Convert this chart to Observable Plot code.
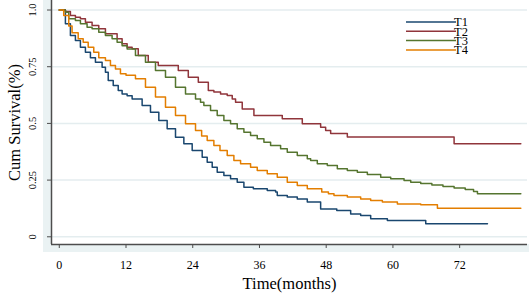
<!DOCTYPE html>
<html>
<head>
<meta charset="utf-8">
<script src="https://cdn.jsdelivr.net/npm/d3@7"></script>
<script src="https://cdn.jsdelivr.net/npm/@observablehq/plot@0.6"></script>
<style>
  html, body { margin: 0; padding: 0; background: #ffffff; }
  #chart svg { display: block; }
</style>
</head>
<body>
<div id="chart"></div>
<script>
// ---- Data ----
const seriesNames = ["T1", "T2", "T3", "T4"];
const seriesColors = ["#1a476f", "#90353b", "#55752f", "#e37e00"];

const t1Time = [0, 1.1, 2.0, 2.9, 3.8, 4.7, 5.6, 6.5, 7.7, 8.3, 8.8, 9.7, 10.6, 11.3, 12.2, 13.1, 14.9, 16.4, 17.9, 19.4, 20.9, 22.4, 23.9, 25.7, 26.6, 27.5, 28.4, 29.6, 30.8, 32.0, 33.2, 34.9, 37.4, 38.9, 39.2, 41.0, 42.8, 44.6, 47.0, 49.9, 52.4, 54.2, 56.0, 59.0, 65.9, 77.0];
const t1Surv = [1.0, 0.94, 0.888, 0.866, 0.836, 0.814, 0.79, 0.77, 0.748, 0.726, 0.689, 0.667, 0.645, 0.63, 0.622, 0.608, 0.579, 0.549, 0.513, 0.476, 0.439, 0.41, 0.38, 0.351, 0.329, 0.307, 0.285, 0.27, 0.256, 0.241, 0.219, 0.212, 0.204, 0.197, 0.182, 0.175, 0.167, 0.153, 0.123, 0.116, 0.101, 0.094, 0.08, 0.072, 0.057, 0.057];

const t2Time = [0, 1.1, 2.0, 2.9, 3.8, 4.7, 5.9, 7.1, 8.3, 10.4, 11.3, 12.2, 13.1, 14.2, 16.0, 17.8, 21.4, 23.2, 25.0, 26.8, 27.8, 29.0, 30.2, 31.1, 31.7, 32.9, 35.0, 40.1, 43.7, 47.0, 47.9, 48.8, 51.8, 71.0, 83.0];
const t2Surv = [1.0, 0.993, 0.976, 0.968, 0.961, 0.946, 0.932, 0.917, 0.895, 0.873, 0.851, 0.836, 0.829, 0.80, 0.77, 0.755, 0.733, 0.704, 0.682, 0.645, 0.638, 0.63, 0.623, 0.608, 0.593, 0.564, 0.535, 0.52, 0.498, 0.483, 0.469, 0.455, 0.44, 0.41, 0.41];

const t3Time = [0, 1.1, 1.7, 2.9, 3.8, 5.0, 5.9, 7.1, 8.3, 9.5, 10.4, 11.3, 12.2, 13.7, 15.5, 17.3, 19.1, 20.9, 22.7, 24.5, 25.4, 26.0, 27.2, 28.4, 29.6, 30.8, 32.0, 33.2, 34.4, 35.6, 36.8, 38.0, 39.8, 41.0, 42.8, 44.6, 45.2, 46.4, 48.2, 50.0, 51.8, 53.6, 55.4, 57.8, 59.6, 62.0, 63.2, 65.0, 67.0, 69.0, 71.0, 73.0, 74.5, 75.2, 83.0];
const t3Surv = [1.0, 0.99, 0.961, 0.954, 0.939, 0.924, 0.917, 0.902, 0.888, 0.873, 0.858, 0.843, 0.828, 0.80, 0.77, 0.733, 0.704, 0.66, 0.63, 0.608, 0.593, 0.579, 0.557, 0.535, 0.513, 0.498, 0.476, 0.461, 0.447, 0.432, 0.417, 0.403, 0.388, 0.373, 0.358, 0.344, 0.336, 0.322, 0.314, 0.30, 0.292, 0.285, 0.275, 0.263, 0.256, 0.248, 0.241, 0.235, 0.228, 0.222, 0.215, 0.208, 0.20, 0.19, 0.19];

const t4Time = [0, 0.8, 1.7, 2.3, 3.4, 4.3, 5.2, 6.2, 7.1, 8.3, 9.2, 10.1, 11.0, 12.0, 13.7, 15.5, 17.3, 19.1, 20.9, 22.7, 24.5, 25.6, 26.6, 27.8, 28.9, 30.2, 31.4, 32.6, 34.4, 35.6, 37.4, 39.2, 41.0, 42.8, 44.6, 47.2, 48.4, 49.4, 51.8, 54.2, 56.0, 58.1, 60.8, 65.0, 68.0, 83.0];
const t4Surv = [1.0, 0.976, 0.93, 0.90, 0.873, 0.858, 0.836, 0.814, 0.79, 0.777, 0.755, 0.74, 0.719, 0.712, 0.697, 0.66, 0.616, 0.571, 0.535, 0.498, 0.469, 0.445, 0.425, 0.403, 0.38, 0.358, 0.336, 0.322, 0.307, 0.292, 0.278, 0.263, 0.241, 0.226, 0.212, 0.197, 0.19, 0.182, 0.175, 0.167, 0.16, 0.153, 0.145, 0.141, 0.126, 0.126];

const xTicks = [0, 12, 24, 36, 48, 60, 72];
const yTicks = [0, 0.25, 0.5, 0.75, 1.0];
const yTickLabels = ["0", "0.25", "0.5", "0.75", "1.0"];
const xTitle = "Time(months)";
const yTitle = "Cum Survival(%)";

// ---- Build table ----
const allTimes = [t1Time, t2Time, t3Time, t4Time];
const allSurv = [t1Surv, t2Surv, t3Surv, t4Surv];
const rows = [];
seriesNames.forEach((name, i) => {
  allTimes[i].forEach((t, j) => rows.push({series: name, time: t, surv: allSurv[i][j]}));
});

const FONT = "'Liberation Serif', 'Times New Roman', serif";
const gridColor = "#e4edef";
const bandColor = "#eaf2f3";
const axisColor = "#4d4d4d";

// background band (graph region) + white plot region
function background(index, scales, values, dimensions) {
  const {width, height, marginLeft, marginBottom} = dimensions;
  const g = d3.create("svg:g");
  g.append("rect").attr("x", marginLeft - 8).attr("y", 0)
    .attr("width", width - marginLeft + 8).attr("height", height - marginBottom + 8)
    .attr("fill", bandColor);
  g.append("rect").attr("x", marginLeft).attr("y", 0)
    .attr("width", width - marginLeft).attr("height", height - marginBottom)
    .attr("fill", "#ffffff");
  return g.node();
}

// legend inside plot
function legend(index, scales, values, dimensions) {
  const g = d3.create("svg:g").attr("font-family", FONT).attr("font-size", 12.5);
  const x0 = 406, x1 = 456, y0 = 22, step = 9.3;
  seriesNames.forEach((name, i) => {
    const y = y0 + i * step;
    g.append("line").attr("x1", x0).attr("x2", x1).attr("y1", y).attr("y2", y)
      .attr("stroke", seriesColors[i]).attr("stroke-width", 1.5);
    g.append("text").attr("x", x1 + 5).attr("y", y + 4.3).attr("fill", "#000").text(name);
  });
  return g.node();
}

const chart = Plot.plot({
  width: 529,
  height: 293,
  marginLeft: 51,
  marginRight: 2,
  marginTop: 0,
  marginBottom: 49,
  style: {fontFamily: FONT, background: "#ffffff"},
  x: {domain: [-1.4, 84.2], axis: null},
  y: {domain: [-0.034, 1.042], axis: null},
  color: {domain: seriesNames, range: seriesColors},
  marks: [
    background,
    Plot.gridY(yTicks, {stroke: gridColor, strokeOpacity: 1, strokeWidth: 1.5}),
    Plot.line(rows, {x: "time", y: "surv", z: "series", stroke: "series", curve: "step-after", strokeWidth: 1.5}),
    Plot.ruleX([-1.4], {stroke: axisColor, strokeWidth: 1.5}),
    Plot.ruleY([-0.034], {stroke: axisColor, strokeWidth: 1.5}),
    Plot.axisY(yTicks, {tickSize: 4, tickFormat: () => "", label: null, stroke: axisColor}),
    Plot.axisX(xTicks, {tickSize: 4, tickFormat: () => "", label: null, stroke: axisColor}),
    Plot.text(yTicks, {y: d => d, text: (d, i) => yTickLabels[i], frameAnchor: "left", dx: -19, rotate: -90, textAnchor: "middle", lineAnchor: "middle", fontSize: 10.5, fill: "#000"}),
    Plot.text(xTicks, {x: d => d, text: d => String(d), frameAnchor: "bottom", dy: 21, textAnchor: "middle", lineAnchor: "middle", fontSize: 12, fill: "#000"}),
    Plot.text([xTitle], {text: d => d, frameAnchor: "bottom", dy: 39, textAnchor: "middle", lineAnchor: "middle", fontSize: 16.5, fill: "#000"}),
    Plot.text([yTitle], {text: d => d, frameAnchor: "left", dx: -37, rotate: -90, textAnchor: "middle", lineAnchor: "middle", fontSize: 16.5, fill: "#000"}),
    legend
  ]
});

document.getElementById("chart").appendChild(chart);
</script>
</body>
</html>
